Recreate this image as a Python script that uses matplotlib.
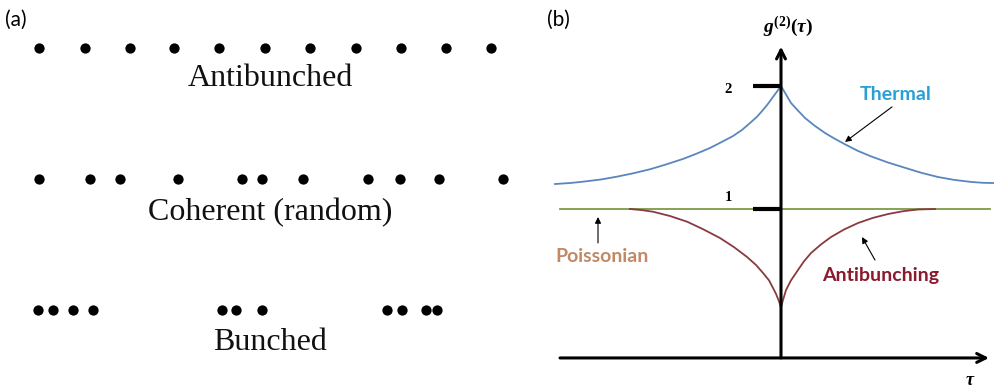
import matplotlib
matplotlib.use("Agg")
import matplotlib.pyplot as plt

# ========================= DATA =========================
# (a) photon arrival positions along each row (arbitrary time units)
antibunched_t = [39, 85, 130, 174, 219, 265, 310, 356, 401, 446, 491]
coherent_t = [39, 90, 120, 178, 242, 262, 303, 368, 400, 439, 503]
bunched_t = [38, 53, 73, 93, 222, 236, 262, 387, 402, 426, 437]
row_labels = ["Antibunched", "Coherent (random)", "Bunched"]
row_y = [48, 179, 310]
label_y = [78, 213, 342]

# (b) g2(tau) curves
thermal_tau = [-2.26, -2.10, -1.98, -1.80, -1.64, -1.48, -1.31, -1.15, -0.98, -0.85, -0.71,
               -0.60, -0.48, -0.39, -0.31, -0.24, -0.18, -0.13, -0.08, -0.04, 0.0,
               0.04, 0.10, 0.17, 0.24, 0.34, 0.44, 0.54, 0.64, 0.77, 0.90, 1.07,
               1.24, 1.40, 1.57, 1.73, 1.90, 2.02, 2.14]
thermal_g = [1.203, 1.212, 1.222, 1.240, 1.263, 1.290, 1.323, 1.362, 1.407, 1.448, 1.496,
             1.542, 1.593, 1.643, 1.699, 1.750, 1.805, 1.855, 1.911, 1.955, 2.0,
             1.945, 1.862, 1.800, 1.740, 1.675, 1.618, 1.570, 1.526, 1.472, 1.428, 1.378,
             1.335, 1.295, 1.260, 1.237, 1.220, 1.213, 1.211]

anti_tau = [-1.51, -1.40, -1.28, -1.11, -0.94, -0.78, -0.61, -0.47, -0.34, -0.25, -0.18,
            -0.12, -0.08, -0.05, -0.02, 0.0,
            0.02, 0.05, 0.10, 0.17, 0.23, 0.30, 0.40, 0.50, 0.63, 0.77, 0.92,
            1.07, 1.22, 1.37, 1.54]
anti_g = [1.0, 0.992, 0.978, 0.943, 0.897, 0.836, 0.764, 0.690, 0.610, 0.545, 0.480,
          0.420, 0.358, 0.31, 0.25, 0.2,
          0.26, 0.341, 0.42, 0.504, 0.575, 0.642, 0.712, 0.772, 0.833, 0.886, 0.928,
          0.959, 0.982, 0.996, 1.0]

poisson_tau = [-2.21, 2.09]
poisson_g = [1.0, 1.0]

ytick_vals = [2, 1]

# ========================= STYLE =========================
THERMAL_LINE = "#5a86bd"
THERMAL_TEXT = "#2a9fd6"
POISSON_LINE = "#7f9a45"
POISSON_TEXT = "#c08a64"
ANTI_LINE = "#8a3a3e"
ANTI_TEXT = "#8c1a2e"

plt.rcParams["mathtext.fontset"] = "custom"
plt.rcParams["mathtext.it"] = "Liberation Serif:italic:bold"
plt.rcParams["mathtext.rm"] = "Liberation Serif:bold"
plt.rcParams["mathtext.bf"] = "Liberation Serif:italic:bold"

W, H = 995, 388
fig = plt.figure(figsize=(W / 100, H / 100), dpi=100)

# ========================= PANEL (a) =========================
ax_a = fig.add_axes([0, 0, 540 / W, 1])
ax_a.set_xlim(0, 540)
ax_a.set_ylim(H, 0)
ax_a.axis("off")

for ts, y, lab, ly in zip([antibunched_t, coherent_t, bunched_t], row_y, row_labels, label_y):
    ax_a.plot(ts, [y] * len(ts), "o", color="black", markersize=7.4, markeredgewidth=0)
    ax_a.text(270, ly, lab, ha="center", va="center", fontsize=23,
              family="Liberation Serif", color="#111111")

ax_a.text(5, 20, "(a)", ha="left", va="center", fontsize=15, family="Lato")

# ========================= PANEL (b) =========================
ax_b = fig.add_axes([540 / W, 0, 455 / W, 1])
ax_b.set_xlim((540 - 781) / 100, (995 - 781) / 100)
ax_b.set_ylim(1 + (209 - 388) / 123, 1 + 209 / 123)
ax_b.axis("off")

ax_b.plot(thermal_tau, thermal_g, color=THERMAL_LINE, lw=1.3, solid_joinstyle="round")
ax_b.plot(poisson_tau, poisson_g, color=POISSON_LINE, lw=1.3)
ax_b.plot(anti_tau, anti_g, color=ANTI_LINE, lw=1.3, solid_joinstyle="round")

# axes with arrows
y0 = -0.211
ax_b.annotate("", xy=(2.08, y0), xytext=(-2.21, y0),
              arrowprops=dict(arrowstyle="->", color="black", lw=2.2,
                              mutation_scale=16, shrinkA=0, shrinkB=0))
ax_b.annotate("", xy=(0, 2.32), xytext=(0, y0),
              arrowprops=dict(arrowstyle="->", color="black", lw=2.2,
                              mutation_scale=16, shrinkA=0, shrinkB=0))

for v in ytick_vals:
    ax_b.plot([-0.28, 0], [v, v], color="black", lw=3, solid_capstyle="butt")
ax_b.text(-0.53, 1.975, "2", ha="center", va="center", fontsize=10.5,
          family="Liberation Serif", weight="bold")
ax_b.text(-0.53, 1.09, "1", ha="center", va="center", fontsize=10.5,
          family="Liberation Serif", weight="bold")

ax_b.text(0.07, 2.48, r"$g^{(2)}(\tau)$", ha="center", va="center", fontsize=14)
ax_b.text(1.89, -0.39, r"$\tau$", ha="center", va="center", fontsize=13)

ax_b.text(0.07 - 2.41, 2.54, "(b)", ha="left", va="center", fontsize=15, family="Lato")

# curve labels + pointers
ax_b.text(1.15, 1.927, "Thermal", ha="center", va="center", fontsize=14,
          family="Lato", weight="bold", color=THERMAL_TEXT)
ax_b.annotate("", xy=(0.64, 1.545), xytext=(1.11, 1.83),
              arrowprops=dict(arrowstyle="-|>", color="black", lw=0.8,
                              mutation_scale=9, shrinkA=0, shrinkB=0))

ax_b.text(-1.79, 0.61, "Poissonian", ha="center", va="center", fontsize=14,
          family="Lato", weight="bold", color=POISSON_TEXT)
ax_b.annotate("", xy=(-1.83, 0.935), xytext=(-1.83, 0.724),
              arrowprops=dict(arrowstyle="-|>", color="black", lw=0.8,
                              mutation_scale=9, shrinkA=0, shrinkB=0))

ax_b.text(1.0, 0.463, "Antibunching", ha="center", va="center", fontsize=14,
          family="Lato", weight="bold", color=ANTI_TEXT)
ax_b.annotate("", xy=(0.81, 0.772), xytext=(0.94, 0.585),
              arrowprops=dict(arrowstyle="-|>", color="black", lw=0.8,
                              mutation_scale=9, shrinkA=0, shrinkB=0))

fig.savefig("out.png", dpi=100, facecolor="white")
